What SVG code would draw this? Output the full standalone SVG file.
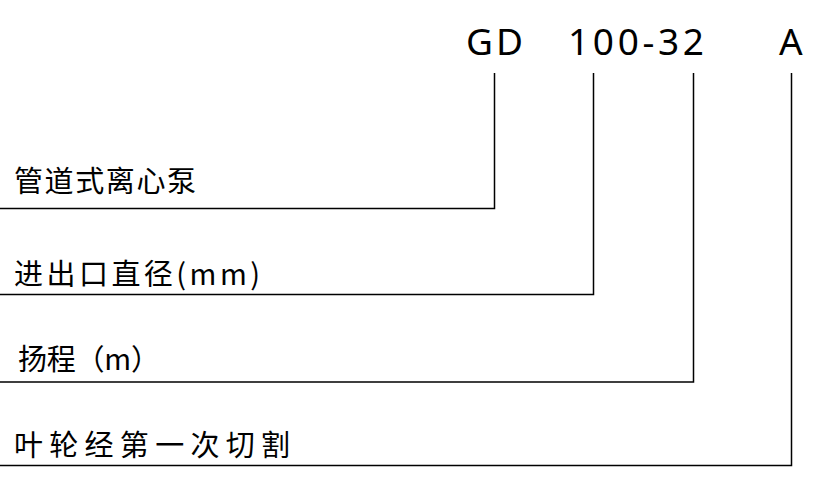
<svg xmlns="http://www.w3.org/2000/svg" width="827" height="502" viewBox="0 0 827 502">
<style>
.code{font-family:"Noto Sans","DejaVu Sans",sans-serif;font-size:37px;fill:#000;}
.lbl{font-family:"Noto Sans CJK SC","Noto Sans",sans-serif;font-size:29px;fill:#000;}
.conn{fill:none;stroke:#000;stroke-width:1.5;}
</style>
<rect width="827" height="502" fill="#fff"/>
<g id="model-code">
<text class="code" x="466" y="55" textLength="57" lengthAdjust="spacing">GD</text>
<text class="code" x="568" y="55" textLength="136" lengthAdjust="spacing">100-32</text>
<text class="code" x="779" y="55">A</text>
</g>
<g id="node-type"><text class="lbl" x="14" y="192" textLength="182" lengthAdjust="spacing">管道式离心泵</text></g>
<g id="node-diameter"><text class="lbl" x="14" y="285" textLength="246" lengthAdjust="spacing">进出口直径(mm)</text></g>
<g id="node-head"><text class="lbl" x="18" y="370" textLength="142" lengthAdjust="spacing">扬程（m）</text></g>
<g id="node-impeller"><text class="lbl" x="14" y="456" textLength="276" lengthAdjust="spacing">叶轮经第一次切割</text></g>
<g id="connectors">
<path class="conn" d="M494.5,73 V208.5 H0"/>
<path class="conn" d="M593.5,73 V294.5 H0"/>
<path class="conn" d="M693.5,73 V382 H0"/>
<path class="conn" d="M791.5,73 V465.5 H0"/>
</g>
</svg>
